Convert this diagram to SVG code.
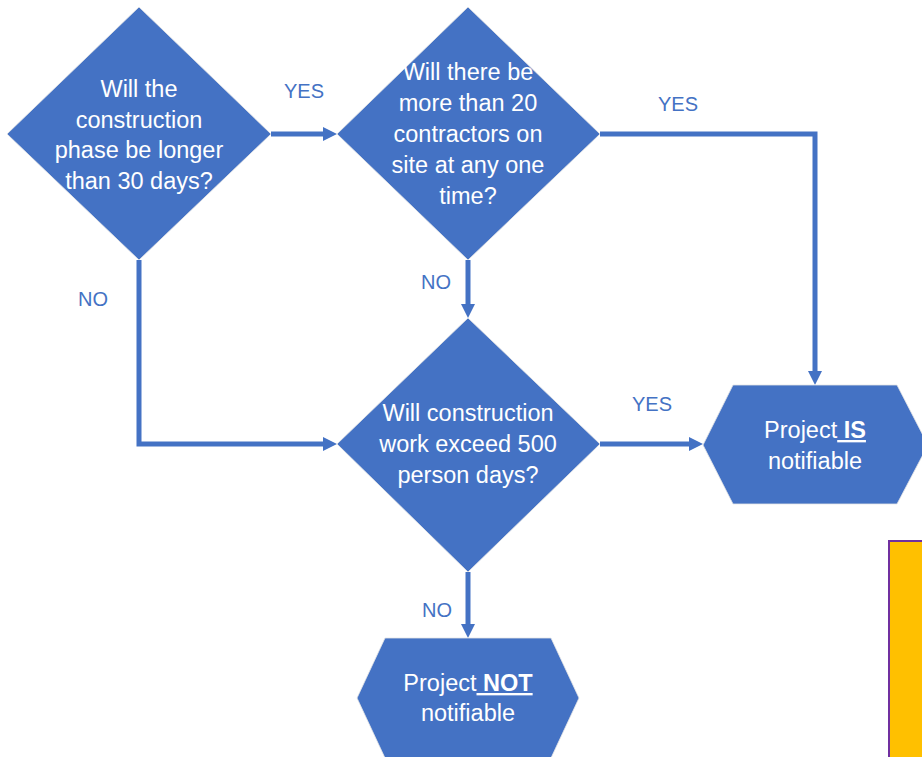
<svg xmlns="http://www.w3.org/2000/svg" width="922" height="757" viewBox="0 0 922 757">
<defs>
<style>
.shape{fill:#4472C4;stroke:#e6e6e6;stroke-width:0.8}
.t{font-family:"Liberation Sans",Arial,sans-serif;font-size:23.5px;fill:#ffffff;text-anchor:middle}
.lbl{font-family:"Liberation Sans",Arial,sans-serif;font-size:20px;fill:#4472C4;text-anchor:middle}
.c{fill:none;stroke:#4472C4;stroke-width:5;marker-end:url(#ah)}
.u{font-weight:bold;text-decoration:underline}
</style>
<marker id="ah" markerUnits="userSpaceOnUse" markerWidth="16" markerHeight="16" refX="4" refY="7" orient="auto">
<path d="M0,0 L14,7 L0,14 Z" fill="#4472C4"/>
</marker>
</defs>
<rect width="922" height="757" fill="#ffffff"/>
<g id="connectors">
<path class="c" d="M271,134 H327"/>
<path class="c" d="M600,134 H815 V375"/>
<path class="c" d="M139,260 V444 H327"/>
<path class="c" d="M468,260 V308"/>
<path class="c" d="M600,444 H693"/>
<path class="c" d="M468,572 V628"/>
</g>
<g id="labels">
<text class="lbl" x="304" y="98">YES</text>
<text class="lbl" x="678" y="111">YES</text>
<text class="lbl" x="436" y="289">NO</text>
<text class="lbl" x="93" y="306">NO</text>
<text class="lbl" x="652" y="411">YES</text>
<text class="lbl" x="437" y="617">NO</text>
</g>
<g id="q1">
<polygon class="shape" points="139,7 271,134 139,260 7,134"/>
<text class="t" x="139" y="97">Will the</text>
<text class="t" x="139" y="128">construction</text>
<text class="t" x="139" y="158">phase be longer</text>
<text class="t" x="139" y="189">than 30 days?</text>
</g>
<g id="q2">
<polygon class="shape" points="468,7 600,134 468,260 337,134"/>
<text class="t" x="468" y="80">Will there be</text>
<text class="t" x="468" y="111">more than 20</text>
<text class="t" x="468" y="142">contractors on</text>
<text class="t" x="468" y="173">site at any one</text>
<text class="t" x="468" y="204">time?</text>
</g>
<g id="q3">
<polygon class="shape" points="468,318 600,444 468,572 337,444"/>
<text class="t" x="468" y="421">Will construction</text>
<text class="t" x="468" y="452">work exceed 500</text>
<text class="t" x="468" y="483">person days?</text>
</g>
<g id="is-notifiable">
<polygon class="shape" points="733,385 897,385 928,445 897,504 733,504 703,445"/>
<text class="t" x="815" y="438">Project<tspan class="u"> IS</tspan></text>
<text class="t" x="815" y="469">notifiable</text>
</g>
<g id="not-notifiable">
<polygon class="shape" points="385,638 551,638 579,698 551,758 385,758 357,698"/>
<text class="t" x="468" y="691">Project<tspan class="u"> NOT</tspan></text>
<text class="t" x="468" y="721">notifiable</text>
</g>
<g id="note">
<rect x="889" y="541" width="40" height="230" fill="#FFC000" stroke="#7030A0" stroke-width="2"/>
</g>
</svg>
